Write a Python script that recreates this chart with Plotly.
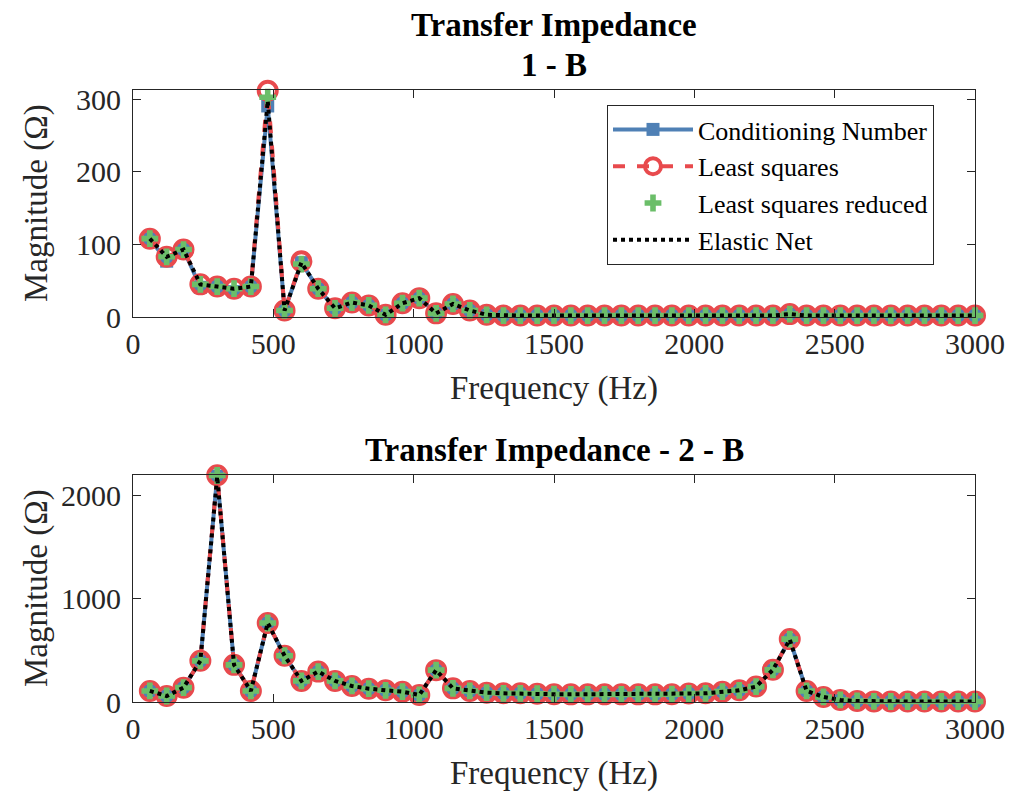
import plotly.graph_objects as go

freq = [60, 120, 180, 240, 300, 360, 420, 480, 540, 600,
        660, 720, 780, 840, 900, 960, 1020, 1080, 1140, 1200,
        1260, 1320, 1380, 1440, 1500, 1560, 1620, 1680, 1740, 1800,
        1860, 1920, 1980, 2040, 2100, 2160, 2220, 2280, 2340, 2400,
        2460, 2520, 2580, 2640, 2700, 2760, 2820, 2880, 2940, 3000]

# Subplot 1: Transfer Impedance 1 - B
top_cond = [108, 77, 93, 41, 42, 35, 42, 291, 9, 75,
            39, 12, 20, 16, 3, 19, 26, 5, 18, 9,
            3, 2, 2, 2, 2, 2, 2, 2, 2, 2,
            2, 2, 2, 2, 2, 2, 2, 2, 4, 2,
            2, 2, 2, 2, 2, 2, 2, 2, 2, 2]
top_ls = [108, 83, 93, 45, 42, 39, 42, 312, 9, 77,
          39, 12, 20, 16, 3, 19, 26, 5, 18, 9,
          3, 2, 2, 2, 2, 2, 2, 2, 2, 2,
          2, 2, 2, 2, 2, 2, 2, 2, 4, 2,
          2, 2, 2, 2, 2, 2, 2, 2, 2, 2]
top_lsr = [108, 83, 93, 45, 42, 39, 42, 303, 9, 73,
           39, 12, 20, 16, 3, 19, 26, 5, 18, 9,
           3, 2, 2, 2, 2, 2, 2, 2, 2, 2,
           2, 2, 2, 2, 2, 2, 2, 2, 4, 2,
           2, 2, 2, 2, 2, 2, 2, 2, 2, 2]
top_en = [108, 83, 93, 45, 42, 39, 42, 298, 9, 75,
          39, 12, 20, 16, 3, 19, 26, 5, 18, 9,
          3, 2, 2, 2, 2, 2, 2, 2, 2, 2,
          2, 2, 2, 2, 2, 2, 2, 2, 4, 2,
          2, 2, 2, 2, 2, 2, 2, 2, 2, 2]

# Subplot 2: Transfer Impedance 2 - B
bot_cond = [107, 58, 139, 398, 2185, 359, 107, 764, 447, 204,
            294, 204, 155, 129, 113, 100, 68, 308, 132, 107,
            90, 84, 84, 80, 75, 74, 74, 74, 74, 74,
            74, 75, 82, 84, 100, 113, 149, 311, 606, 107,
            49, 20, 10, 6, 5, 5, 5, 5, 5, 5]
bot_ls = [107, 58, 139, 398, 2193, 359, 107, 764, 447, 204,
          294, 204, 155, 129, 113, 100, 68, 308, 132, 107,
          90, 84, 84, 80, 75, 74, 74, 74, 74, 74,
          74, 75, 82, 84, 100, 113, 149, 311, 608, 107,
          49, 20, 10, 6, 5, 5, 5, 5, 5, 5]
bot_lsr = [107, 58, 139, 398, 2190, 359, 107, 764, 447, 204,
           294, 204, 155, 129, 113, 100, 68, 308, 132, 107,
           90, 84, 84, 80, 75, 74, 74, 74, 74, 74,
           74, 75, 82, 84, 100, 113, 149, 311, 608, 107,
           49, 20, 10, 6, 5, 5, 5, 5, 5, 5]
bot_en = [107, 58, 139, 398, 2180, 359, 107, 764, 447, 204,
          294, 204, 155, 129, 113, 100, 68, 308, 132, 107,
          90, 84, 84, 80, 75, 74, 74, 74, 74, 74,
          74, 75, 82, 84, 100, 113, 149, 311, 604, 107,
          49, 20, 10, 6, 5, 5, 5, 5, 5, 5]

names = ["Conditioning Number", "Least squares", "Least squares reduced", "Elastic Net"]
x_ticks = [0, 500, 1000, 1500, 2000, 2500, 3000]
top_yticks = [0, 100, 200, 300]
bot_yticks = [0, 1000, 2000]

BLUE = "#4F80B5"
RED = "#E84A4D"
GREEN = "#6BBE69"
BLACK = "#000000"
AX = "#262626"
FONT = "Liberation Serif, Times New Roman, serif"

W, H = 1017, 796
L, R = 133, 975


def fy(p):  # pixel y -> paper fraction
    return 1 - p / H


def fx(p):  # pixel x -> paper fraction (plot area)
    return (p - L) / (R - L)


fig = go.Figure()

for (xa, ya, data, show) in [("x", "y", (top_cond, top_ls, top_lsr, top_en), True),
                             ("x2", "y2", (bot_cond, bot_ls, bot_lsr, bot_en), False)]:
    cond, ls, lsr, en = data
    fig.add_trace(go.Scatter(x=freq, y=cond, name=names[0], mode="lines+markers",
                             line=dict(color=BLUE, width=4),
                             marker=dict(symbol="square", size=13, color=BLUE),
                             xaxis=xa, yaxis=ya, showlegend=show, cliponaxis=False))
    fig.add_trace(go.Scatter(x=freq, y=ls, name=names[1], mode="lines+markers",
                             line=dict(color=RED, width=4, dash="dash"),
                             marker=dict(symbol="circle-open", size=18, color=RED,
                                         line=dict(width=4, color=RED)),
                             xaxis=xa, yaxis=ya, showlegend=show, cliponaxis=False))
    fig.add_trace(go.Scatter(x=freq, y=lsr, name=names[2], mode="markers",
                             marker=dict(symbol="cross", size=14, color=GREEN),
                             xaxis=xa, yaxis=ya, showlegend=show, cliponaxis=False))
    fig.add_trace(go.Scatter(x=freq, y=en, name=names[3], mode="lines",
                             line=dict(color=BLACK, width=4, dash="dot"),
                             xaxis=xa, yaxis=ya, showlegend=show, cliponaxis=False))

axis_common = dict(showline=True, linecolor=AX, linewidth=1, mirror="ticks",
                   ticks="inside", ticklen=8, tickcolor=AX, showgrid=False,
                   zeroline=False, automargin=False,
                   tickfont=dict(family=FONT, size=30, color=AX))

fig.update_layout(
    template="none",
    width=W, height=H,
    margin=dict(l=L, r=W - R, t=0, b=0, pad=0, autoexpand=False),
    paper_bgcolor="white", plot_bgcolor="white",
    font=dict(family=FONT, color=AX),
    xaxis=dict(domain=[0, 1], range=[0, 3000], tickvals=x_ticks, anchor="y", **axis_common),
    yaxis=dict(domain=[fy(317), fy(90)], range=[0, 313], tickvals=top_yticks, anchor="x",
               ticklabelstandoff=5, **axis_common),
    xaxis2=dict(domain=[0, 1], range=[0, 3000], tickvals=x_ticks, anchor="y2", **axis_common),
    yaxis2=dict(domain=[fy(702), fy(475)], range=[0, 2195], tickvals=bot_yticks, anchor="x2",
                ticklabelstandoff=5, **axis_common),
    legend=dict(x=fx(607), y=fy(105), xanchor="left", yanchor="top",
                bgcolor="white", bordercolor=AX, borderwidth=1,
                font=dict(family=FONT, size=26, color="#000000"),
                itemwidth=80, tracegroupgap=0),
    showlegend=True,
)

ann = [
    dict(text="<b>Transfer Impedance</b>", x=0.5, y=fy(25), font=dict(size=33, color="#000000")),
    dict(text="<b>1 - B</b>", x=0.5, y=fy(65), font=dict(size=33, color="#000000")),
    dict(text="<b>Transfer Impedance - 2 - B</b>", x=0.5, y=fy(450), font=dict(size=33, color="#000000")),
    dict(text="Frequency (Hz)", x=0.5, y=fy(388), font=dict(size=33, color=AX)),
    dict(text="Frequency (Hz)", x=0.5, y=fy(773), font=dict(size=33, color=AX)),
    dict(text="Magnitude (Ω)", x=fx(36), y=fy(203), textangle=-90, font=dict(size=33, color=AX)),
    dict(text="Magnitude (Ω)", x=fx(36), y=fy(588), textangle=-90, font=dict(size=33, color=AX)),
]
for a in ann:
    a.update(xref="paper", yref="paper", xanchor="center", yanchor="middle", showarrow=False)
    a["font"]["family"] = FONT
fig.update_layout(annotations=ann)

fig.write_html("out.html",
               config={"displayModeBar": False},
               post_script="document.body.style.margin='0';document.body.style.overflow='hidden';")
